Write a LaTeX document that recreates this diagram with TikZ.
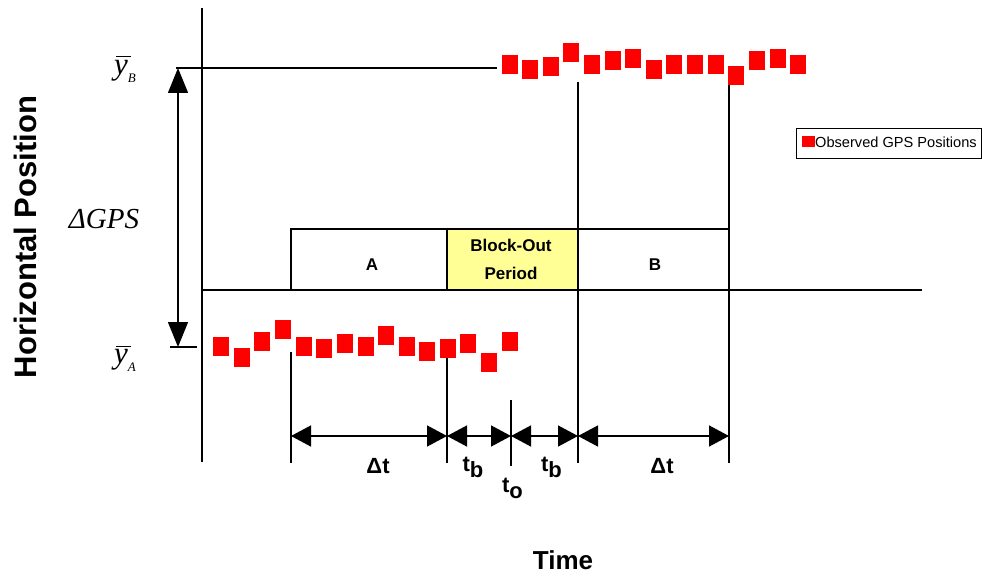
\documentclass[tikz,border=0pt]{standalone}
\usepackage{fontspec}
\setmainfont{Liberation Sans}
\newfontfamily\tms{Liberation Serif}
\usetikzlibrary{arrows.meta}
\definecolor{blockfill}{RGB}{255,255,150}
% mean position symbol: italic y with a bar, and a lowered subscript
\newcommand{\meanpos}[1]{{\fontsize{31}{31}\selectfont\tms\itshape
  \makebox[0pt][l]{\hspace{2pt}\raisebox{17pt}{\rule{15pt}{1pt}}}y}%
  \raisebox{-8pt}{\fontsize{13}{13}\selectfont\tms\itshape #1}}
\tikzset{
  axisline/.style={line width=2pt},
  guide/.style={line width=1.5pt},
  gps/.style={fill=red, draw=none, minimum width=16pt, minimum height=19pt, inner sep=0pt},
  period/.style={draw, line width=1.5pt, minimum height=61pt, inner sep=0pt},
  boxtext/.style={font=\fontsize{17}{28}\selectfont\bfseries, align=center, inner sep=0pt},
  span/.style={line width=1.5pt, {Triangle[length=20pt,width=21pt]}-{Triangle[length=20pt,width=21pt]}},
  diff/.style={line width=1.5pt, {Triangle[length=25pt,width=20pt]}-{Triangle[length=25pt,width=20pt]}},
  spanlabel/.style={font=\fontsize{22}{22}\selectfont\bfseries, inner sep=0pt},
}
\begin{document}
\begin{tikzpicture}[x=1pt,y=-1pt]
\useasboundingbox (0,0) rectangle (982,577);

% axes
\coordinate (axtop) at (202,8);
\coordinate (axbot) at (202,462);
\coordinate (tl) at (202,290);
\coordinate (tr) at (922,290);
\draw[axisline] (axtop) -- (axbot);
\draw[axisline] (tl) -- (tr);

% mean levels and the difference between them
\coordinate (yb0) at (176,68);
\coordinate (yb1) at (497,68);
\coordinate (ya0) at (170,347);
\coordinate (ya1) at (197,347);
\draw[guide] (yb0) -- (yb1);
\draw[guide] (ya0) -- (ya1);
\coordinate (dtop) at (178,68);
\coordinate (dbot) at (178,347);
\draw[diff] (dtop) -- (dbot);

\node[anchor=base west, inner sep=0pt] (lblB) at (114,74.5) {\meanpos{B}};
\node[anchor=base west, inner sep=0pt] (lblA) at (114,363.5) {\meanpos{A}};
\node[anchor=base, inner sep=0pt] (lblD) at (104,229) {\fontsize{29}{29}\selectfont\tms\itshape ΔGPS};

% time periods
\node[period, minimum width=156pt] (boxA) at (369,259.5) {};
\node[period, minimum width=131pt, fill=blockfill] (boxO) at (512.5,259.5) {};
\node[period, minimum width=151pt] (boxB) at (653.5,259.5) {};
\node[boxtext] (txtA) at (372,265) {A};
\node[boxtext] (txtO) at (511,259) {Block-Out\\Period};
\node[boxtext] (txtB) at (655,265) {B};

% vertical markers
\coordinate (m1t) at (291,352);  \coordinate (m1b) at (291,463);
\coordinate (m2t) at (447,357);  \coordinate (m2b) at (447,463);
\coordinate (m3t) at (511,400);  \coordinate (m3b) at (511,466);
\coordinate (m4t) at (578,82);   \coordinate (m4b) at (578,463);
\coordinate (m5t) at (729,82);   \coordinate (m5b) at (729,463);
\foreach \m in {1,...,5} \draw[guide] (m\m t) -- (m\m b);

% spans
\coordinate (s1) at (291,436);
\coordinate (s2) at (447,436);
\coordinate (s3) at (511,436);
\coordinate (s4) at (578,436);
\coordinate (s5) at (729,436);
\draw[span] (s1) -- (s2);
\draw[span] (s2) -- (s3);
\draw[span] (s3) -- (s4);
\draw[span] (s4) -- (s5);

\node[spanlabel] (dt1) at (378,466) {Δt};
\node[spanlabel] (tb1) at (473,467) {t\raisebox{-6pt}{b}};
\node[spanlabel] (to) at (512.5,488) {t\raisebox{-6pt}{o}};
\node[spanlabel] (tb2) at (551.5,467) {t\raisebox{-6pt}{b}};
\node[spanlabel] (dt2) at (662,466) {Δt};

% observed positions before and after the block-out
\foreach \x/\y [count=\i] in {221/346, 242/357, 262/341, 283/329, 304/346, 324/348,
  345/343, 366/346, 386/335, 407/346, 427/351, 448/348, 468/343, 489/362, 510/341}
  \node[gps] (pa\i) at (\x,\y) {};
\foreach \x/\y [count=\i] in {510/64.5, 530/69.5, 551/66.8, 571/52.8, 592/64.5, 613/61,
  633/58.5, 654/69.5, 674/64.5, 695/64.5, 716/64.5, 736/75.8, 757/61, 778/58.5, 798/64.5}
  \node[gps] (pb\i) at (\x,\y) {};

% axis titles
\node[rotate=90, font=\fontsize{31}{31}\selectfont\bfseries] (ytitle) at (25,237) {Horizontal Position};
\node[font=\fontsize{26}{26}\selectfont\bfseries] (xtitle) at (563,560) {Time};

% legend
\coordinate (lg0) at (796,128);
\coordinate (lg1) at (981,158);
\draw[line width=0.8pt] (lg0) rectangle (lg1);
\node[fill=red, minimum width=13pt, minimum height=11pt, inner sep=0pt] (lgkey) at (808.5,142) {};
\node[anchor=west, inner sep=0pt, font=\fontsize{14.6}{15}\selectfont] (lgtext) at (815,142) {Observed GPS Positions};
\end{tikzpicture}
\end{document}
